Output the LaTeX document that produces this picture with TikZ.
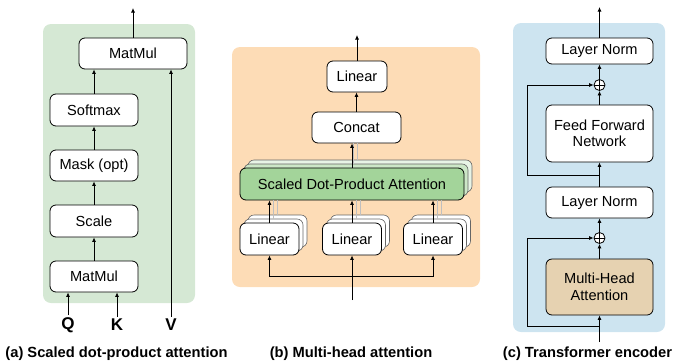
\documentclass[tikz,border=0pt]{standalone}
\usepackage{fontspec}
\setmainfont{Liberation Sans}
\usepackage{tikz}
\usetikzlibrary{arrows.meta}
\usetikzlibrary{positioning}

\definecolor{bggreen}{HTML}{D5E8D4}
\definecolor{bgorange}{HTML}{FDDCB6}
\definecolor{bgblue}{HTML}{CDE4F0}
\definecolor{sdpagreen}{HTML}{A3D49A}
\definecolor{mhatan}{HTML}{E6D2B1}

\begin{document}
\begin{tikzpicture}[x=1pt, y=-1pt,
		block/.style={draw, rounded corners=6pt, fill=white, line width=0.8pt, inner sep=0pt, align=center, font=\fontsize{14.6}{16.5}\selectfont},
		backblock/.style={draw=black!60, rounded corners=6pt, fill=white, line width=0.6pt, inner sep=0pt},
		arr/.style={-{Latex[length=4.5pt,width=4pt]}, line width=0.8pt},
		ghost/.style={draw=black!25, line width=0.6pt},
		sumnode/.style={circle, draw, fill=white, line width=0.8pt, minimum size=11pt, inner sep=0pt},
		qkv/.style={font=\fontsize{17}{19}\selectfont\bfseries, inner sep=2pt},
		caption/.style={font=\fontsize{14.7}{17}\selectfont\bfseries},
		panel/.style={rounded corners=8pt}]
	\useasboundingbox (0,0) rectangle (674,362);
	% Draw the panel backgrounds
	\fill[bggreen, panel] (43,24) rectangle (195,303);
	\fill[bgorange, panel] (232,47) rectangle (480,287);
	\fill[bgblue, panel] (513,23) rectangle (665,332);
	
	% (a) scaled dot-product attention
	\node[block, minimum width=108pt, minimum height=31pt] (mm2) at (133,53.5) {MatMul};
	\node[block, minimum width=88pt, minimum height=32pt] (soft) at (94,110) {Softmax};
	\node[block, minimum width=88pt, minimum height=31pt] (mask) at (94,165.5) {Mask (opt)};
	\node[block, minimum width=88pt, minimum height=32pt] (scale) at (94,221) {Scale};
	\node[block, minimum width=88pt, minimum height=31pt] (mm1) at (94,276.5) {MatMul};
	\node[qkv] (q) at (68,325) {Q};
	\node[qkv] (k) at (117,325) {K};
	\node[qkv] (v) at (171,325) {V};
	\coordinate (out-a) at (133,8);
	\foreach \a/\b in {mm1/scale, scale/mask, mask/soft}{
		\draw[arr] (\a) -- (\b);
	}
	\draw[arr] (soft) -- (soft |- mm2.south);
	\draw[arr] (mm2) -- (out-a);
	\foreach \n in {q,k}{
		\draw[arr] (\n) -- (\n |- mm1.south);
	}
	\draw[arr] (v) -- (v |- mm2.south);
	
	% (b) multi-head attention
	\node[backblock, fill=sdpagreen!25, minimum width=224pt, minimum height=32pt] (sdpa-c) at (360,176) {};
	\node[backblock, fill=sdpagreen!55, minimum width=224pt, minimum height=32pt] (sdpa-b) at (356,180) {};
	\node[block, fill=sdpagreen, minimum width=224pt, minimum height=32pt] (sdpa) at (352,184) {Scaled Dot-Product Attention};
	\node[block, minimum width=89pt, minimum height=31pt] (concat) at (356.5,127.5) {Concat};
	\node[block, minimum width=60pt, minimum height=31pt] (lin4) at (357,76.5) {Linear};
	\foreach \i/\x in {1/269.5, 2/352, 3/433}{
		\node[backblock, minimum width=59pt, minimum height=32pt] (lin\i-c) at (\x+8,231) {};
		\node[backblock, minimum width=59pt, minimum height=32pt] (lin\i-b) at (\x+4,235) {};
		\node[block, minimum width=59pt, minimum height=32pt] (lin\i) at (\x,239) {Linear};
		\draw[ghost] ([shift={(8,-8)}]lin\i.north) -- ([xshift=8]lin\i.north |- sdpa.south);
		\draw[ghost] ([shift={(4,-4)}]lin\i.north) -- ([xshift=4]lin\i.north |- sdpa.south);
		\draw[arr] (lin\i) -- (lin\i |- sdpa.south);
	}
	\draw[ghost] ([shift={(5,-8)}]sdpa.north) -- ([xshift=5]sdpa.north |- concat.south);
	\draw[ghost] ([shift={(1,-4)}]sdpa.north) -- ([xshift=1]sdpa.north |- concat.south);
	\draw[arr] (sdpa) -- (sdpa |- concat.south);
	\draw[arr] (concat) -- (concat |- lin4.south);
	\coordinate (out-b) at (357,35);
	\draw[arr] (lin4) -- (out-b);
	\coordinate (in-b) at (352,300);
	\coordinate (split-b) at (352,276);
	\draw[arr] (in-b) -- (lin2);
	\draw[arr] (split-b) -| (lin1);
	\draw[arr] (split-b) -| (lin3);
	
	% (c) transformer encoder
	\node[block, minimum width=107pt, minimum height=26pt] (ln2) at (599.5,51) {Layer Norm};
	\node[sumnode] (add2) at (599.5,85) {};
	\node[block, minimum width=107pt, minimum height=57pt] (ffn) at (599.5,133.5) {Feed Forward\\Network};
	\node[block, minimum width=107pt, minimum height=31pt] (ln1) at (599.5,202.5) {Layer Norm};
	\node[sumnode] (add1) at (599.5,238) {};
	\node[block, fill=mhatan, minimum width=107pt, minimum height=56pt] (mha) at (599.5,287) {Multi-Head\\Attention};
	\foreach \s in {add1, add2}{
		\draw[line width=0.8pt] (\s.north) -- (\s.south) (\s.west) -- (\s.east);
	}
	\coordinate (in-c) at (599.5,342);
	\coordinate (out-c) at (599.5,7);
	\coordinate (res1) at (599.5,326);
	\coordinate (loop1) at (527,326);
	\coordinate (res2) at (599.5,175);
	\coordinate (loop2) at (527,175);
	\draw[arr] (in-c) -- (mha);
	\foreach \a/\b in {mha/add1, add1/ln1, ln1/ffn, ffn/add2, add2/ln2, ln2/out-c}{
		\draw[arr] (\a) -- (\b);
	}
	\draw[arr] (res1) -- (loop1) |- (add1);
	\draw[arr] (res2) -- (loop2) |- (add2);
	
	% captions
	\node[caption] (cap-a) at (116.5,354) {(a) Scaled dot-product attention};
	\node[caption] (cap-b) at (351,354) {(b) Multi-head attention};
	\node[caption] (cap-c) at (587.5,354) {(c) Transformer encoder};
\end{tikzpicture}
\end{document}
